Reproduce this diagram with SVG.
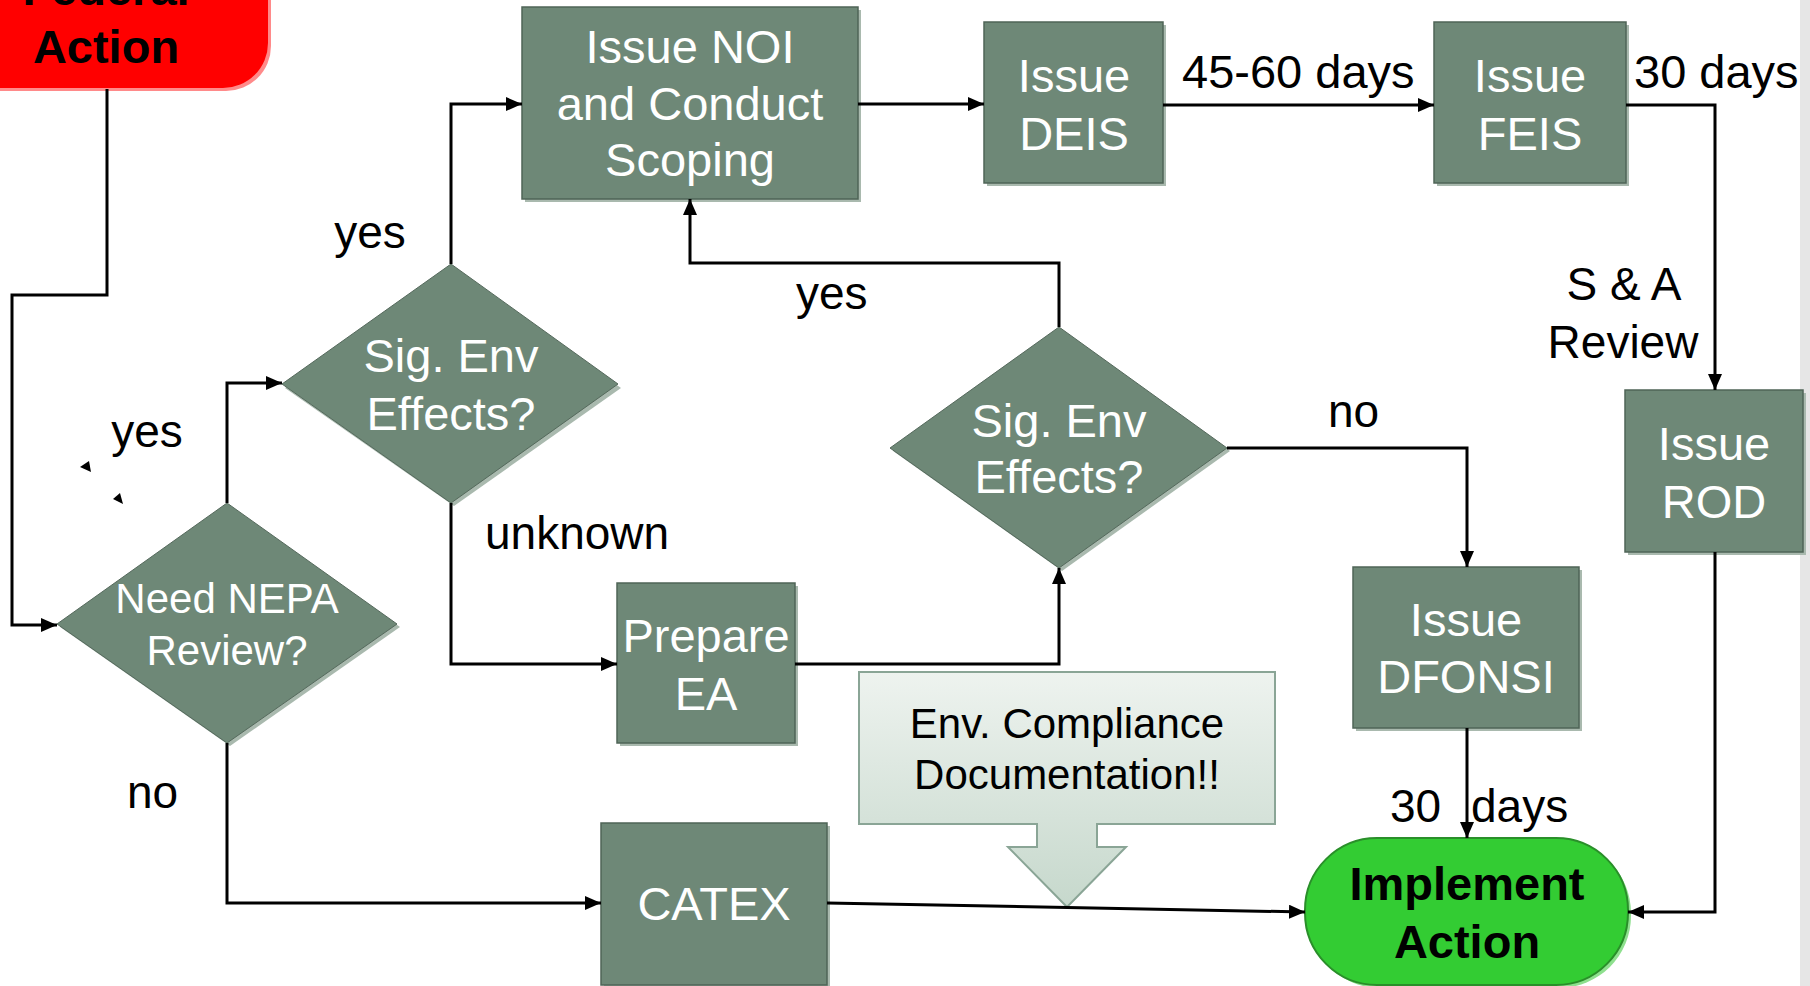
<svg xmlns="http://www.w3.org/2000/svg" width="1810" height="986" viewBox="0 0 1810 986">
<defs>
<style>
.box{fill:#6E8877;stroke:#4F6457;stroke-width:1.5}
.sh{fill:#A9B9AE}
.wt{font-family:"Liberation Sans",Arial,sans-serif;font-size:47px;fill:#fff;text-anchor:middle}
.lb{font-family:"Liberation Sans",Arial,sans-serif;font-size:46px;fill:#000}
.bt{font-family:"Liberation Sans",Arial,sans-serif;font-size:47px;font-weight:bold;fill:#000;text-anchor:middle}
.cn{fill:none;stroke:#000;stroke-width:3;marker-end:url(#ah)}
</style>
<marker id="ah" markerUnits="userSpaceOnUse" markerWidth="16" markerHeight="14" viewBox="0 0 16 14" refX="16" refY="7" orient="auto">
<path d="M0,0 L16,7 L0,14 Z" fill="#000"/>
</marker>
<linearGradient id="cg" x1="0" y1="0" x2="0" y2="1">
<stop offset="0" stop-color="#EEF3EF"/>
<stop offset="1" stop-color="#C6D8CC"/>
</linearGradient>
</defs>
<rect x="0" y="0" width="1810" height="986" fill="#fff"/>
<rect x="1800" y="0" width="10" height="986" fill="#E6E6E6"/>

<g id="federal-action">
<rect x="-60" y="-60" width="331" height="151" rx="45" fill="#FF8A8A"/>
<rect x="-60" y="-60" width="328" height="148" rx="45" fill="#FF0000"/>
<text class="bt" x="106" y="5">Federal</text>
<text class="bt" x="106" y="63">Action</text>
</g>

<g id="need-nepa">
<path class="sh" d="M230,506 L400,627 L230,746 L60,627 Z"/>
<path d="M227,503 L397,624 L227,743 L57,624 Z" fill="#6E8877" stroke="#55695C" stroke-width="1"/>
<text class="wt" style="font-size:42px" x="227" y="613">Need NEPA</text>
<text class="wt" style="font-size:42px" x="227" y="665">Review?</text>
</g>

<g id="sig-env-1">
<path class="sh" d="M454,267 L621,388 L454,506 L285,388 Z"/>
<path d="M451,264 L618,384 L451,503 L282,384 Z" fill="#6E8877" stroke="#55695C" stroke-width="1"/>
<text class="wt" x="451" y="372">Sig. Env</text>
<text class="wt" x="451" y="430">Effects?</text>
</g>

<g id="sig-env-2">
<path class="sh" d="M1062,330 L1230,451 L1062,571 L893,451 Z"/>
<path d="M1059,327 L1227,448 L1059,568 L890,448 Z" fill="#6E8877" stroke="#55695C" stroke-width="1"/>
<text class="wt" x="1059" y="437">Sig. Env</text>
<text class="wt" x="1059" y="493">Effects?</text>
</g>

<g id="issue-noi">
<rect class="sh" x="525" y="10" width="336" height="192"/>
<rect class="box" x="522" y="7" width="336" height="192"/>
<text class="wt" x="690" y="63">Issue NOI</text>
<text class="wt" x="690" y="120">and Conduct</text>
<text class="wt" x="690" y="176">Scoping</text>
</g>

<g id="issue-deis">
<rect class="sh" x="987" y="25" width="179" height="161"/>
<rect class="box" x="984" y="22" width="179" height="161"/>
<text class="wt" x="1074" y="92">Issue</text>
<text class="wt" x="1074" y="150">DEIS</text>
</g>

<g id="issue-feis">
<rect class="sh" x="1437" y="25" width="192" height="161"/>
<rect class="box" x="1434" y="22" width="192" height="161"/>
<text class="wt" x="1530" y="92">Issue</text>
<text class="wt" x="1530" y="150">FEIS</text>
</g>

<g id="issue-rod">
<rect class="sh" x="1628" y="393" width="178" height="162"/>
<rect class="box" x="1625" y="390" width="178" height="162"/>
<text class="wt" x="1714" y="460">Issue</text>
<text class="wt" x="1714" y="518">ROD</text>
</g>

<g id="issue-dfonsi">
<rect class="sh" x="1356" y="570" width="226" height="161"/>
<rect class="box" x="1353" y="567" width="226" height="161"/>
<text class="wt" x="1466" y="636">Issue</text>
<text class="wt" x="1466" y="693">DFONSI</text>
</g>

<g id="prepare-ea">
<rect class="sh" x="620" y="586" width="178" height="160"/>
<rect class="box" x="617" y="583" width="178" height="160"/>
<text class="wt" x="706" y="652">Prepare</text>
<text class="wt" x="706" y="710">EA</text>
</g>

<g id="catex">
<rect class="sh" x="604" y="826" width="226" height="162"/>
<rect class="box" x="601" y="823" width="226" height="162"/>
<text class="wt" x="714" y="920">CATEX</text>
</g>

<g id="callout">
<path d="M859,672 H1275 V824 H1097 V847 H1126 L1067,907 L1008,847 H1037 V824 H859 Z" fill="url(#cg)" stroke="#8AA596" stroke-width="2"/>
<text class="lb" style="font-size:42px" x="1067" y="738" text-anchor="middle">Env. Compliance</text>
<text class="lb" style="font-size:42px" x="1067" y="789" text-anchor="middle">Documentation!!</text>
</g>

<g id="implement-action">
<rect x="1308" y="841" width="323" height="147" rx="72" fill="#8EE08E"/>
<rect x="1305" y="838" width="323" height="147" rx="72" fill="#33CC33" stroke="#2A8F2A" stroke-width="2"/>
<text class="bt" x="1467" y="900">Implement</text>
<text class="bt" x="1467" y="958">Action</text>
</g>

<g id="connectors">
<path class="cn" d="M107,89 V295 H12 V625 H57"/>
<path class="cn" d="M227,503 V383 H282"/>
<path class="cn" d="M451,264 V104 H522"/>
<path class="cn" d="M858,104 H984"/>
<path class="cn" d="M1163,105 H1434"/>
<path class="cn" d="M1626,105 H1715 V390"/>
<path class="cn" d="M1715,552 V912 H1628"/>
<path class="cn" d="M451,503 V664 H617"/>
<path class="cn" d="M795,664 H1059 V568"/>
<path class="cn" d="M1059,327 V263 H690 V199"/>
<path class="cn" d="M1227,448 H1467 V567"/>
<path class="cn" d="M1467,728 V838"/>
<path class="cn" d="M227,743 V903 H601"/>
<path class="cn" d="M827,903 L1305,912"/>
<path d="M80,467 L89,461 L91,472 Z" fill="#000"/>
<path d="M113,499 L120,493 L123,504 Z" fill="#000"/>
</g>

<g id="labels">
<text class="lb" x="147" y="447" text-anchor="middle">yes</text>
<text class="lb" x="370" y="248" text-anchor="middle">yes</text>
<text class="lb" x="485" y="549">unknown</text>
<text class="lb" x="796" y="309">yes</text>
<text class="lb" x="1328" y="427">no</text>
<text class="lb" x="127" y="808">no</text>
<text class="lb" style="font-size:47px" x="1182" y="88">45-60 days</text>
<text class="lb" style="font-size:47px" x="1634" y="88">30 days</text>
<text class="lb" x="1624" y="300" text-anchor="middle">S &amp; A</text>
<text class="lb" x="1623" y="358" text-anchor="middle">Review</text>
<text class="lb" x="1390" y="822">30<tspan x="1471">days</tspan></text>
</g>
</svg>
